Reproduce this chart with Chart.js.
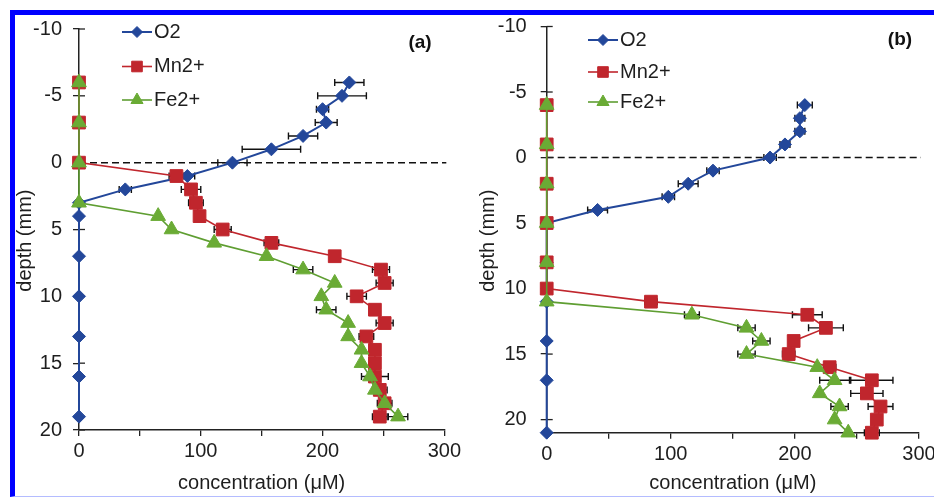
<!DOCTYPE html>
<html><head><meta charset="utf-8">
<script src="https://cdn.jsdelivr.net/npm/chart.js@4.4.0/dist/chart.umd.min.js"></script>
<style>
html,body{margin:0;padding:0;background:#fff;overflow:hidden;width:934px;height:499px;position:relative;}
#frame{position:absolute;left:10px;top:10px;width:930px;height:481px;border-left:5px solid #0000ff;border-top:5px solid #0000ff;border-bottom:1px solid #b4bcff;}
#ca{position:absolute;left:0;top:0;}
#cb{position:absolute;left:464px;top:0;}
</style></head><body>
<div id="frame"></div>
<canvas id="ca" width="464" height="499"></canvas>
<canvas id="cb" width="500" height="499"></canvas>
<script>
// ---------- data ----------
const seriesNames = ['O2', 'Mn2+', 'Fe2+'];
const xTickValues = [0, 100, 200, 300];
const xMinorStep = 50;
const yTickStep = 5;
const surfaceDepth = 0;

// panel (a)
const aO2Depth = [-6,-5,-4,-3,-2,-1,0,1,2,3,4,7,10,13,16,19];
const aO2Conc  = [222,216,200,203,184,158,126,89,38,0,0,0,0,0,0,0];
const aO2Err   = [12,20,5,9,12,24,12,6,5,0,0,0,0,0,0,0];

const aMnDepth = [-6,-3,0,1,2,3,4,5,6,7,8,9,10,11,12,13,14,15,16,17,18,19];
const aMnConc  = [0,0,0,80,92,96,99,118,158,210,248,251,228,243,251,236,243,243,243,247,251,247];
const aMnErr   = [0,0,0,6,8,6,0,7,6,0,7,7,8,0,7,6,0,0,11,6,6,6];

const aFeDepth = [-6,-3,0,3,4,5,6,7,8,9,10,11,12,13,14,15,16,17,18,19];
const aFeConc  = [0,0,0,0,65,76,111,154,184,210,199,203,221,221,232,232,239,243,251,262];
const aFeErr   = [0,0,0,0,0,0,0,0,8,0,0,8,0,0,0,0,0,0,0,8];

// panel (b)
const bO2Depth = [-4,-3,-2,-1,0,1,2,3,4,5,8,11,14,17,21];
const bO2Conc  = [208,204,204,192,180,134,114,98,41,0,0,0,0,0,0];
const bO2Err   = [6,4,4,4,5,5,8,5,8,0,0,0,0,0,0];

const bMnDepth = [-4,-1,2,5,8,10,11,12,13,14,15,16,17,18,19,20,21];
const bMnConc  = [0,0,0,0,0,0,84,210,225,199,195,228,262,258,269,266,262];
const bMnErr   = [0,0,0,0,0,0,5,12,14,4,5,5,17,13,10,0,6];

const bFeDepth = [-4,-1,2,5,8,11,12,13,14,15,16,17,18,19,20,21];
const bFeConc  = [0,0,0,0,0,0,117,161,173,161,218,232,220,236,232,243];
const bFeErr   = [0,0,0,0,0,0,6,7,7,7,0,12,0,7,0,0];

// ---------- styling ----------
const FONT = "'Liberation Sans', Arial, sans-serif";
Chart.defaults.font.family = FONT;
Chart.defaults.color = '#1e1e1e';
const styles = [
  {line:'#23479a', fill:'#23479a', point:'rectRot', r:6.5, lr:5.5, w:2},
  {line:'#c0262d', fill:'#c0262d', point:'rect', r:9, lr:7.5, w:1.6},
  {line:'#5f9e32', fill:'#6aab35', point:'triangle', r:8.5, lr:7, w:1.6}
];
const orders = [2, 1, 0];

function toPoints(d, c){ return d.map((v,i)=>({x:c[i], y:v})); }

const errorBars = {
  id:'errorBars',
  beforeDatasetsDraw(chart){
    const ctx = chart.ctx, xs = chart.scales.x, ys = chart.scales.y;
    ctx.save();
    ctx.strokeStyle = '#111'; ctx.lineWidth = 1.4;
    chart.data.datasets.forEach(ds=>{
      if(!ds.errors) return;
      ds.data.forEach((p,j)=>{
        const e = ds.errors[j]; if(!e) return;
        const py = ys.getPixelForValue(p.y);
        const x1 = xs.getPixelForValue(p.x - e), x2 = xs.getPixelForValue(p.x + e);
        ctx.beginPath();
        ctx.moveTo(x1, py); ctx.lineTo(x2, py);
        ctx.moveTo(x1, py-3.5); ctx.lineTo(x1, py+3.5);
        ctx.moveTo(x2, py-3.5); ctx.lineTo(x2, py+3.5);
        ctx.stroke();
      });
    });
    // dashed sediment surface line
    const y0 = ys.getPixelForValue(surfaceDepth);
    ctx.strokeStyle = '#111'; ctx.lineWidth = 1.5; ctx.setLineDash([7,4]);
    ctx.beginPath(); ctx.moveTo(xs.left, y0); ctx.lineTo(xs.right + 2, y0); ctx.stroke();
    ctx.setLineDash([]);
    // inward y ticks
    ctx.strokeStyle = '#222'; ctx.lineWidth = 1.3;
    ys.ticks.forEach(t=>{
      const py = ys.getPixelForValue(t.value);
      ctx.beginPath(); ctx.moveTo(ys.right, py); ctx.lineTo(ys.right + 6, py); ctx.stroke();
    });
    ctx.restore();
  }
};

const legendAndLabel = {
  id:'legendAndLabel',
  afterDraw(chart){
    const o = chart.options.plugins.legendAndLabel;
    const ctx = chart.ctx;
    ctx.save();
    seriesNames.forEach((name,i)=>{
      const st = styles[i];
      const y = o.legendY[i];
      ctx.strokeStyle = st.line; ctx.lineWidth = st.w;
      ctx.beginPath(); ctx.moveTo(o.legendX, y); ctx.lineTo(o.legendX + 30, y); ctx.stroke();
      ctx.fillStyle = st.fill; ctx.strokeStyle = st.fill; ctx.lineWidth = 1;
      Chart.helpers.drawPoint(ctx, {pointStyle: st.point, radius: st.lr, rotation: 0, borderWidth: 1}, o.legendX + 15, y);
      ctx.fillStyle = '#1e1e1e';
      ctx.font = '20px ' + FONT;
      ctx.textBaseline = 'middle'; ctx.textAlign = 'left';
      ctx.fillText(name, o.legendX + 32, y);
    });
    ctx.font = 'bold 19px ' + FONT;
    ctx.textAlign = 'center'; ctx.textBaseline = 'middle';
    ctx.fillStyle = '#111';
    ctx.fillText(o.label, o.labelX, o.labelY);
    ctx.restore();
  }
};

function makeChart(id, cfg){
  const series = [
    [cfg.o2d, cfg.o2c, cfg.o2e],
    [cfg.mnd, cfg.mnc, cfg.mne],
    [cfg.fed, cfg.fec, cfg.fee]
  ];
  const datasets = series.map((s,i)=>({
    label: seriesNames[i],
    data: toPoints(s[0], s[1]),
    errors: s[2],
    showLine: true,
    clip: false,
    borderColor: styles[i].line,
    backgroundColor: styles[i].fill,
    pointBackgroundColor: styles[i].fill,
    pointBorderColor: styles[i].fill,
    borderWidth: styles[i].w,
    pointStyle: styles[i].point,
    pointRadius: styles[i].r,
    pointBorderWidth: 1,
    order: orders[i],
    tension: 0
  }));
  return new Chart(document.getElementById(id), {
    type: 'scatter',
    data: {datasets},
    plugins: [errorBars, legendAndLabel],
    options: {
      responsive: false,
      animation: false,
      devicePixelRatio: 1,
      layout: {padding: cfg.pad},
      plugins: {
        legend: {display: false},
        tooltip: {enabled: false},
        legendAndLabel: cfg.lab
      },
      scales: {
        x: {
          type: 'linear', position: 'bottom', min: 0, max: 300,
          afterBuildTicks: s => {
            const t = [];
            for (let v = s.min; v <= s.max + 1e-9; v += xMinorStep) t.push({value: v});
            s.ticks = t;
          },
          ticks: {autoSkip: false, maxRotation: 0, color: '#1e1e1e', font: {size: 20}, padding: cfg.xPad,
                  callback: v => xTickValues.includes(v) ? String(v) : ''},
          grid: {display: true, drawOnChartArea: false, drawTicks: true, tickLength: 6, color: '#222', lineWidth: 1.3},
          border: {display: true, color: '#222', width: 1.5},
          title: {display: true, text: 'concentration (μM)', color: '#1e1e1e', font: {size: 20}, padding: {top: 0, bottom: 4}},
          afterFit: s => { s.height = cfg.xH; }
        },
        y: {
          type: 'linear', reverse: true, min: -10, max: cfg.yMax,
          afterBuildTicks: s => {
            const t = [];
            for (let v = s.min; v <= s.max + 1e-9; v += yTickStep) t.push({value: v});
            s.ticks = t;
          },
          ticks: {autoSkip: false, color: '#1e1e1e', font: {size: 20}, padding: cfg.yPad},
          grid: {display: true, drawOnChartArea: false, drawTicks: true, tickLength: 6, color: '#222', lineWidth: 1.3},
          border: {display: true, color: '#222', width: 1.5},
          title: {display: true, text: 'depth (mm)    ', color: '#1e1e1e', font: {size: 20}, padding: {top: 0, bottom: 0}},
          afterFit: s => { s.width = cfg.yW; }
        }
      }
    }
  });
}

makeChart('ca', {
  o2d:aO2Depth, o2c:aO2Conc, o2e:aO2Err,
  mnd:aMnDepth, mnc:aMnConc, mne:aMnErr,
  fed:aFeDepth, fec:aFeConc, fee:aFeErr,
  yMax: 20,
  pad: {left: 13, top: 29, right: 18, bottom: 0},
  yW: 66, xH: 69, yPad: 11, xPad: 3,
  lab: {legendX: 122, legendY: [32, 66.5, 100], label: '(a)', labelX: 420, labelY: 43}
});
makeChart('cb', {
  o2d:bO2Depth, o2c:bO2Conc, o2e:bO2Err,
  mnd:bMnDepth, mnc:bMnConc, mne:bMnErr,
  fed:bFeDepth, fec:bFeConc, fee:bFeErr,
  yMax: 21,
  pad: {left: 12, top: 26.5, right: 45, bottom: 0},
  yW: 70.7, xH: 66.3, yPad: 14, xPad: 4,
  lab: {legendX: 124, legendY: [40, 72, 102], label: '(b)', labelX: 436, labelY: 40}
});
</script>
</body></html>
